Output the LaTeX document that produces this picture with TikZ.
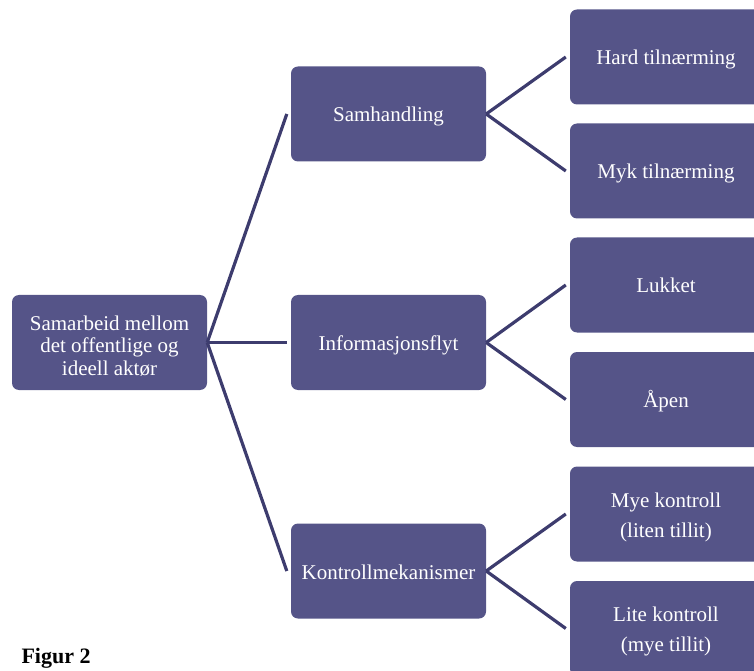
\documentclass[tikz,border=0pt]{standalone}
\usepackage{fontspec}
\setmainfont{Liberation Serif}
\definecolor{boxfill}{HTML}{555488}
\definecolor{linecol}{HTML}{3D3C6E}
\newcommand\toppad{\rule[-5pt]{0pt}{26pt}}
\begin{document}
\begin{tikzpicture}[x=1pt,y=1pt,
  box/.style={fill=boxfill, rounded corners=7pt, text=white, align=center,
    inner sep=2pt, font=\fontsize{21}{22.5}\selectfont},
  midbox/.style={box, minimum width=195pt, minimum height=95pt},
  leafbox/.style={box, minimum width=192pt, minimum height=95pt, font=\fontsize{21}{30}\selectfont},
  conn/.style={draw=linecol, line width=3.2pt}]
\useasboundingbox (0,0) rectangle (754,670);
\clip (0,0) rectangle (754,670);
\node[midbox] (root) at (109.5,327.5) {\toppad Samarbeid mellom\\det offentlige og\\ideell aktør};
\node[midbox] (sam) at (388.5,556) {\toppad Samhandling};
\node[midbox] (inf) at (388.5,327.5) {\toppad Informasjonsflyt};
\node[midbox] (kon) at (388.5,99) {\toppad Kontrollmekanismer};
\node[leafbox] (hard) at (666,613) {\toppad Hard tilnærming};
\node[leafbox] (myk) at (666,499) {\toppad Myk tilnærming};
\node[leafbox] (luk) at (666,385) {\toppad Lukket};
\node[leafbox] (apen) at (666,270.5) {\toppad Åpen};
\node[leafbox] (mye) at (666,156) {\toppad Mye kontroll\\(liten tillit)};
\node[leafbox] (lite) at (666,41.5) {\toppad Lite kontroll\\(mye tillit)};
\node[anchor=base west, font=\fontsize{22}{24}\selectfont\bfseries] (fig) at (18,7) {Figur 2};
\draw[conn] (root.east) -- ([xshift=-4pt]sam.west);
\draw[conn] (root.east) -- ([xshift=-4pt]inf.west);
\draw[conn] (root.east) -- ([xshift=-4pt]kon.west);
\draw[conn] (sam.east) -- ([xshift=-4pt]hard.west);
\draw[conn] (sam.east) -- ([xshift=-4pt]myk.west);
\draw[conn] (inf.east) -- ([xshift=-4pt]luk.west);
\draw[conn] (inf.east) -- ([xshift=-4pt]apen.west);
\draw[conn] (kon.east) -- ([xshift=-4pt]mye.west);
\draw[conn] (kon.east) -- ([xshift=-4pt]lite.west);
\end{tikzpicture}
\end{document}
